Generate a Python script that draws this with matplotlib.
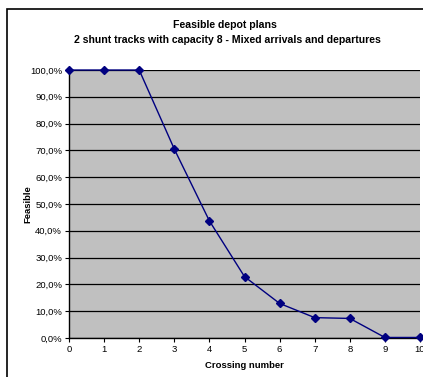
import matplotlib.pyplot as plt
from matplotlib.patches import Rectangle
from matplotlib.ticker import FuncFormatter

crossing = [0, 1, 2, 3, 4, 5, 6, 7, 8, 9, 10]
feasible = [100.0, 100.0, 100.0, 70.5, 43.7, 22.9, 12.9, 7.6, 7.3, 0.2, 0.2]

plt.rcParams['font.family'] = ['Liberation Sans', 'DejaVu Sans']

W, H = 423, 377
fig = plt.figure(figsize=(W / 100, H / 100), dpi=100)

# outer chart frame
fig.patches.append(Rectangle((7 / W, -0.05), 1.0, 1 - 9 / H + 0.05, transform=fig.transFigure,
                             fill=False, edgecolor='black', linewidth=1.2))

ax = fig.add_axes([69 / W, 1 - 338 / H, (420 - 69) / W, (338 - 70) / H])
ax.set_facecolor('#c0c0c0')
ax.plot(crossing, feasible, color='#000080', linewidth=1.0, marker='D', markersize=3.8,
        clip_on=False, zorder=3)

ax.set_xlim(0, 10)
ax.set_ylim(0, 100)
ax.set_xticks(crossing)
ax.set_yticks(range(0, 101, 10))
ax.yaxis.set_major_formatter(FuncFormatter(lambda v, p: f"{v:.1f}%".replace('.', ',')))
ax.grid(axis='y', color='black', linewidth=0.9)
ax.set_axisbelow(True)
for s in ('top', 'right'):
    ax.spines[s].set_visible(False)
for s in ('left', 'bottom'):
    ax.spines[s].set_color('black')
    ax.spines[s].set_linewidth(1.0)
ax.tick_params(labelsize=6.8, length=3, width=0.8, color='black', pad=2)

ax.set_xlabel("Crossing number", fontsize=6.8, fontweight='bold', labelpad=5)
fig.text(28 / W, 1 - 204 / H, "Feasible", rotation=90, ha='center', va='center',
         fontsize=6.8, fontweight='bold')
fig.text(225 / W, 1 - 25 / H, "Feasible depot plans", ha='center', va='center',
         fontsize=7.6, fontweight='bold')
fig.text(227 / W, 1 - 40 / H,
         "2 shunt tracks with capacity 8 - Mixed arrivals and departures",
         ha='center', va='center', fontsize=7.6, fontweight='bold')

fig.savefig('out.png', dpi=100)
